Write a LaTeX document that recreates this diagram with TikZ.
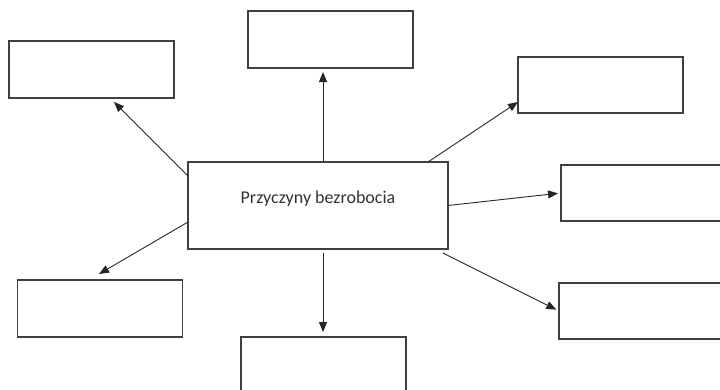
\documentclass[tikz,border=0pt]{standalone}
\usepackage{fontspec}
\setmainfont{Carlito}
\usetikzlibrary{arrows.meta,calc}

\tikzset{
  cause/.style={rectangle, draw=black!75, line width=1.1pt, fill=white,
                minimum width=165pt, minimum height=57pt, inner sep=0pt, outer sep=0pt},
  hub/.style={cause, minimum width=260pt, minimum height=87pt,
              font=\fontsize{18}{20}\selectfont, text=black!80,
              text height=13pt, text depth=18pt},
  link/.style={->, line width=0.9pt, draw=black!85}
}

\begin{document}
\begin{tikzpicture}[x=1pt, y=-1pt, >={Triangle[length=10pt,width=8pt]}]
  \useasboundingbox (0,0) rectangle (720,389);

  \node[hub] (ctr) at (318,205.5) {Przyczyny bezrobocia};

  \node[cause] (tl) at (91.5,69.5) {};
  \node[cause] (tc) at (330.5,39.5) {};
  \node[cause, minimum height=56pt] (tr) at (600.5,85) {};
  \node[cause, minimum height=56pt] (rm) at (643.5,193) {};
  \node[cause, minimum height=56pt] (br) at (641.5,311) {};
  \node[cause] (bl) at (100,308.5) {};
  \node[cause] (bc) at (323.5,365.5) {};

  \draw[link, shorten >=4pt] ([xshift=5pt]ctr.north) -- ([xshift=5pt]ctr.north |- tc.south);
  \draw[link] ([yshift=29.5pt]ctr.west) -- ([xshift=22.5pt,yshift=-4pt]tl.south);
  \draw[link] ([xshift=110pt]ctr.north) -- ([yshift=-17pt]tr.west);
  \draw[link, shorten >=3pt] (ctr.east) -- (rm.west);
  \draw[link, shorten >=3pt] ([xshift=-5pt,yshift=-4pt]ctr.south east) -- (br.west);
  \draw[link] ([yshift=-16.5pt]ctr.west) -- ([xshift=-1pt,yshift=6pt]bl.north);
  \draw[link, shorten >=5pt] ([xshift=5pt,yshift=-4pt]ctr.south) -- ([xshift=5pt]ctr.south |- bc.north);
\end{tikzpicture}
\end{document}
